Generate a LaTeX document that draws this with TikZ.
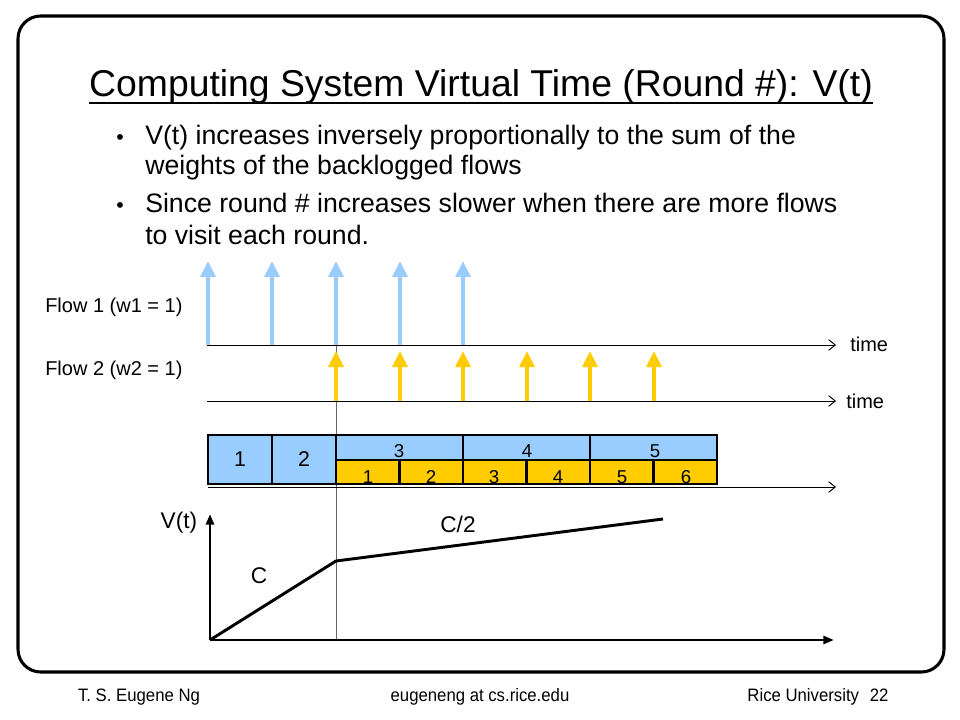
\documentclass[tikz,border=0pt]{standalone}
\usepackage{fontspec}
\setmainfont{Liberation Sans}
\usetikzlibrary{arrows.meta}
\definecolor{flowblue}{RGB}{153,204,255}
\definecolor{flowgold}{RGB}{255,204,0}
\begin{document}
\begin{tikzpicture}[x=0.75pt,y=-0.75pt,
  bodytext/.style={anchor=base west, inner sep=0pt, font=\fontsize{20}{24}\selectfont},
  flowtext/.style={inner sep=0pt, font=\fontsize{15}{18}\selectfont},
  graphtext/.style={inner sep=0pt, font=\fontsize{17}{20}\selectfont},
  foottext/.style={inner sep=0pt, font=\fontsize{13.5}{16}\selectfont\addfontfeature{FakeStretch=0.93}},
  cellnum/.style={inner sep=0pt, font=\fontsize{14}{16}\selectfont},
  bignum/.style={inner sep=0pt, font=\fontsize{16}{18}\selectfont},
  timeaxis/.style={line width=0.7pt, -{Straight Barb[length=5pt,width=8pt,line width=0.7pt]}},
  bluearrow/.style={draw=flowblue, line width=3pt, -{Triangle[length=12pt,width=11pt]}},
  goldarrow/.style={draw=flowgold, line width=3pt, -{Triangle[length=12pt,width=11pt]}},
  cellbox/.style={draw=black, line width=2.2pt},
  graphaxis/.style={line width=2.2pt, -{Triangle[length=8pt,width=6pt]}}
]
\useasboundingbox (0,0) rectangle (960,720);
% frame
\draw[line width=2.3pt, rounded corners=17pt] (18,16) rectangle (944,672);

% title
\node[anchor=base, inner sep=0pt, font=\fontsize{28}{32}\selectfont] (title) at (481,97)
  {Computing System Virtual Time (Round \#): V(t)};
\draw[line width=1.3pt] ([yshift=-4.5pt]title.base west) -- ([yshift=-4.5pt]title.base east);

% bullets
\node[bodytext] (bul1) at (116,145) {\fontsize{16}{20}\selectfont •};
\node[bodytext] (t1a) at (145,145) {V(t) increases inversely proportionally to the sum of the};
\node[bodytext] (t1b) at (145,175) {weights of the backlogged flows};
\node[bodytext] (bul2) at (116,213) {\fontsize{16}{20}\selectfont •};
\node[bodytext] (t2a) at (145,213) {Since round \# increases slower when there are more flows};
\node[bodytext] (t2b) at (145,245) {to visit each round.};

% flow labels
\node[flowtext, anchor=west] (f1) at (45,307) {Flow 1 (w1 = 1)};
\node[flowtext, anchor=west] (f2) at (45,370) {Flow 2 (w2 = 1)};

% vertical guide
\coordinate (vtop) at (336,345);
\coordinate (vbot) at (336,640);
\draw[line width=0.4pt, black!60] (vtop) -- (vbot);

% time axes
\coordinate (a1s) at (207,345); \coordinate (a1e) at (836,345);
\coordinate (a2s) at (207,401); \coordinate (a2e) at (836,401);
\coordinate (a3s) at (208,487); \coordinate (a3e) at (836,487);
\draw[timeaxis] (a1s) -- (a1e);
\draw[timeaxis] (a2s) -- (a2e);
\draw[timeaxis] (a3s) -- (a3e);
\node[flowtext, anchor=west] (time1) at (850,344) {time};
\node[flowtext, anchor=west] (time2) at (846,401) {time};

% flow 1 arrivals
\foreach \x [count=\i] in {208,272,336,400,463} {
  \coordinate (bb\i) at (\x,345);
  \coordinate (bt\i) at (\x,261);
  \draw[bluearrow] (bb\i) -- (bt\i);
}
% flow 2 arrivals
\foreach \x [count=\i] in {336,400,463,527,590,654} {
  \coordinate (gb\i) at (\x,401);
  \coordinate (gt\i) at (\x,351);
  \draw[goldarrow] (gb\i) -- (gt\i);
}

% service boxes
\filldraw[fill=flowblue, cellbox] (208,435) rectangle (272,484);
\filldraw[fill=flowblue, cellbox] (272,435) rectangle (336,484);
\foreach \xa/\xb in {336/463,463/590,590/717} {
  \filldraw[fill=flowblue, cellbox] (\xa,435) rectangle (\xb,460);
}
\foreach \xa/\xb in {336/399.5,399.5/463,463/526.5,526.5/590,590/653.5,653.5/717} {
  \filldraw[fill=flowgold, cellbox] (\xa,460) rectangle (\xb,484);
}
\draw[cellbox] (208,435) rectangle (717,484);
\node[bignum] (n1) at (240,459) {1};
\node[bignum] (n2) at (304,459) {2};
\node[cellnum] (u3) at (399,451) {3};
\node[cellnum] (u4) at (527,451) {4};
\node[cellnum] (u5) at (655,451) {5};
\foreach \x [count=\i] in {368,431,494,558,622,686} {
  \node[cellnum] (l\i) at (\x,477) {\i};
}

% V(t) graph
\coordinate (o) at (210,640);
\coordinate (ytop) at (210,514);
\coordinate (xend) at (834,640);
\coordinate (knee) at (336,561);
\coordinate (cend) at (663,519);
\draw[graphaxis] (o) -- (ytop);
\draw[graphaxis] (o) -- (xend);
\draw[line width=2.2pt, line join=round] (o) -- (knee) -- (cend);
\node[graphtext] (vt) at (179,523) {V(t)};
\node[graphtext] (cl) at (259,576) {C};
\node[graphtext] (c2) at (458,524) {C/2};

% footer
\node[foottext] (foot1) at (139,697) {T. S. Eugene Ng};
\node[foottext] (foot2) at (480,697) {eugeneng at cs.rice.edu};
\node[foottext] (foot3) at (818,697) {Rice University\hspace{0.6em}22};
\end{tikzpicture}
\end{document}
